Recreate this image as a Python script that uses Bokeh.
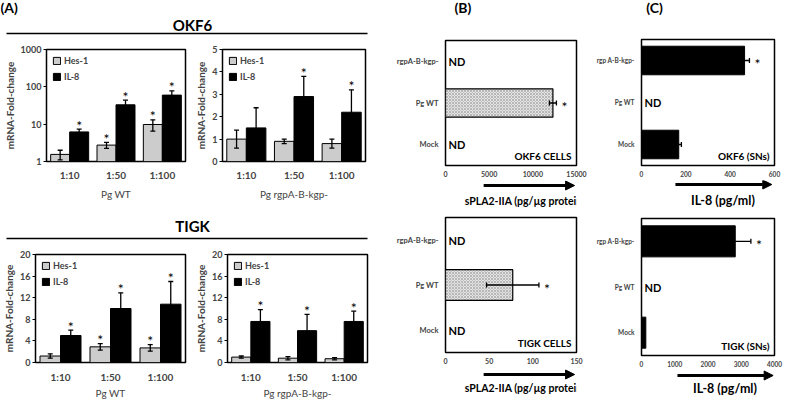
from bokeh.plotting import figure
from bokeh.models import (Range1d, FixedTicker, ColumnDataSource, Whisker, TeeHead,
                          Arrow, NormalHead, Legend, LegendItem)
from bokeh.layouts import row, column
from bokeh.embed import file_html
from bokeh.resources import INLINE
from bokeh.core.properties import value

FONT = "Lato"

# ---------------- data (A) ----------------
groups = ["1:10", "1:50", "1:100"]
series_names = ["Hes-1", "IL-8"]

okf6_wt_hes = [1.55, 2.75, 9.8]
okf6_wt_hes_err = [0.45, 0.5, 3.3]
okf6_wt_il8 = [6.2, 33.0, 60.0]
okf6_wt_il8_err = [1.2, 11.0, 18.0]
okf6_wt_hes_sig = [False, True, True]
okf6_wt_il8_sig = [True, True, True]

okf6_mut_hes = [1.0, 0.9, 0.8]
okf6_mut_hes_err = [0.4, 0.1, 0.2]
okf6_mut_il8 = [1.5, 2.9, 2.2]
okf6_mut_il8_err = [0.9, 0.9, 1.0]
okf6_mut_hes_sig = [False, False, False]
okf6_mut_il8_sig = [False, True, True]

tigk_wt_hes = [1.2, 2.9, 2.7]
tigk_wt_hes_err = [0.4, 0.6, 0.6]
tigk_wt_il8 = [5.0, 10.0, 10.8]
tigk_wt_il8_err = [1.0, 2.9, 4.2]
tigk_wt_hes_sig = [False, True, True]
tigk_wt_il8_sig = [True, True, True]

tigk_mut_hes = [1.0, 0.8, 0.7]
tigk_mut_hes_err = [0.2, 0.3, 0.2]
tigk_mut_il8 = [7.6, 5.9, 7.6]
tigk_mut_il8_err = [2.2, 3.0, 1.9]
tigk_mut_hes_sig = [False, False, False]
tigk_mut_il8_sig = [True, True, True]

log_ticks = [1, 10, 100, 1000]
okf6_mut_ticks = [0, 1, 2, 3, 4, 5]
tigk_ticks = [0, 4, 8, 12, 16, 20]

# ---------------- data (B) ----------------
conds_b = ["rgpA-B-kgp-", "Pg WT", "Mock"]
okf6_spla2 = [None, 12300, None]
okf6_spla2_err = [None, 400, None]
okf6_spla2_sig = [False, True, False]
tigk_spla2 = [None, 77, None]
tigk_spla2_err = [None, 30, None]
tigk_spla2_sig = [False, True, False]
spla2_ticks_okf6 = [0, 5000, 10000, 15000]
spla2_ticks_tigk = [0, 50, 100, 150]

# ---------------- data (C) ----------------
conds_c = ["rgp A-B-kgp-", "Pg WT", "Mock"]
okf6_il8_sn = [465, None, 168]
okf6_il8_sn_err = [22, None, 12]
okf6_il8_sn_sig = [True, False, False]
tigk_il8_sn = [2820, None, 130]
tigk_il8_sn_err = [470, None, 0]
tigk_il8_sn_sig = [True, False, False]
il8_ticks_okf6 = [0, 200, 400, 600]
il8_ticks_tigk = [0, 1000, 2000, 3000, 4000]


def canvas(w, h):
    c = figure(width=w, height=h, x_range=Range1d(0, w), y_range=Range1d(h, 0),
               toolbar_location=None, output_backend="svg", min_border=0,
               x_axis_location=None, y_axis_location=None)
    c.grid.visible = False
    c.outline_line_color = None
    return c


def add_text(c, x, y, text, size, style="bold", align="center", baseline="middle"):
    c.text(x=[x], y=[y], text=[text], text_font=value(FONT), text_font_size=size,
           text_font_style=style, text_align=align, text_baseline=baseline,
           text_color="black")


def group_plot(width, height, left, right, top, bottom, ylo, yhi, yticks, xlabel,
               hes, hes_err, il8, il8_err, hes_sig, il8_sig, log=False,
               tick_standoff=7, label_standoff=4):
    kw = dict(y_axis_type="log") if log else {}
    p = figure(width=width, height=height, x_range=Range1d(0, len(groups)),
               y_range=Range1d(ylo, yhi), toolbar_location=None, output_backend="svg",
               min_border_left=left, min_border_right=right, min_border_top=top,
               min_border_bottom=bottom, **kw)
    p.grid.visible = False
    p.outline_line_color = "black"
    p.outline_line_width = 1.5
    idx = list(range(len(groups)))
    xh = [i + 0.5 - 0.205 for i in idx]
    xi = [i + 0.5 + 0.205 for i in idx]
    r1 = p.vbar(x=xh, top=hes, bottom=ylo, width=0.41, fill_color="#cccccc",
                line_color="black", line_width=1)
    r2 = p.vbar(x=xi, top=il8, bottom=ylo, width=0.41, fill_color="black",
                line_color="black", line_width=1)
    src = ColumnDataSource(dict(
        x=xh + xi,
        lo=[v - e for v, e in zip(hes, hes_err)] + [v - e for v, e in zip(il8, il8_err)],
        hi=[v + e for v, e in zip(hes, hes_err)] + [v + e for v, e in zip(il8, il8_err)]))
    w = Whisker(source=src, base="x", lower="lo", upper="hi", dimension="height",
                line_color="black", line_width=1.3, level="overlay",
                upper_head=TeeHead(size=5, line_color="black", line_width=1.3),
                lower_head=TeeHead(size=5, line_color="black", line_width=1.3))
    p.add_layout(w)
    sx, sy = [], []
    for x, v, e, s in zip(xh + xi, hes + il8, hes_err + il8_err, hes_sig + il8_sig):
        if s:
            sx.append(x)
            sy.append(v + e)
    p.text(x=sx, y=sy, text=["*"] * len(sx), text_font=value(FONT), text_font_size="14px",
           text_align="center", text_baseline="middle", y_offset=-4, text_color="black")
    legend = Legend(items=[LegendItem(label=series_names[0], renderers=[r1]),
                           LegendItem(label=series_names[1], renderers=[r2])],
                    location="top_left", margin=6, padding=1, spacing=5,
                    glyph_width=9, glyph_height=9, label_height=9, label_standoff=3,
                    label_text_font=FONT, label_text_font_size="9px",
                    label_text_font_style="bold",
                    background_fill_alpha=0, border_line_color=None)
    p.add_layout(legend)
    p.xaxis.ticker = FixedTicker(ticks=[i + 0.5 for i in idx])
    p.xaxis.major_label_overrides = {i + 0.5: g for i, g in enumerate(groups)}
    p.xaxis.major_tick_line_color = None
    p.xaxis.major_tick_out = 0
    p.xaxis.major_tick_in = 0
    p.xaxis.minor_tick_line_color = None
    p.xaxis.minor_tick_out = 0
    p.xaxis.axis_line_color = None
    p.xaxis.major_label_standoff = tick_standoff
    p.xaxis.major_label_text_font = FONT
    p.xaxis.major_label_text_font_size = "10px"
    p.xaxis.major_label_text_font_style = "bold"
    p.xaxis.axis_label = xlabel
    p.xaxis.axis_label_text_font = FONT
    p.xaxis.axis_label_text_font_size = "10px"
    p.xaxis.axis_label_text_font_style = "normal"
    p.xaxis.axis_label_standoff = label_standoff
    p.yaxis.ticker = FixedTicker(ticks=yticks)
    p.yaxis.major_label_overrides = {t: str(t) for t in yticks}
    p.yaxis.axis_line_color = None
    p.yaxis.major_tick_out = 3
    p.yaxis.major_tick_in = 0
    p.yaxis.minor_tick_line_color = None
    p.yaxis.minor_tick_out = 0
    p.yaxis.major_label_standoff = 2
    p.yaxis.major_label_text_font = FONT
    p.yaxis.major_label_text_font_size = "9px"
    p.yaxis.major_label_text_font_style = "bold"
    p.yaxis.axis_label = "mRNA-Fold-change"
    p.yaxis.axis_label_text_font = FONT
    p.yaxis.axis_label_text_font_size = "10px"
    p.yaxis.axis_label_text_font_style = "bold"
    p.yaxis.axis_label_standoff = 2
    return p


def hbar_plot(width, height, left, right, top, bottom, conds, vals, errs, sig,
              xmax, xticks, cell_label, style, cat_font, tick_font):
    n = len(conds)
    p = figure(width=width, height=height, x_range=Range1d(0, xmax),
               y_range=Range1d(0, n), toolbar_location=None, output_backend="svg",
               min_border_left=left, min_border_right=right, min_border_top=top,
               min_border_bottom=bottom)
    p.grid.visible = False
    p.outline_line_color = "black"
    p.outline_line_width = 1.5
    ys = [n - i - 0.5 for i in range(n)]
    by = [ys[i] for i in range(n) if vals[i] is not None]
    bv = [vals[i] for i in range(n) if vals[i] is not None]
    p.hbar(y=by, right=bv, left=0, height=0.68, **style)
    wy, wl, wh = [], [], []
    for i in range(n):
        if vals[i] is not None and errs[i]:
            wy.append(ys[i])
            wl.append(vals[i] - errs[i])
            wh.append(vals[i] + errs[i])
    if wy:
        src = ColumnDataSource(dict(y=wy, lo=wl, hi=wh))
        p.add_layout(Whisker(source=src, base="y", lower="lo", upper="hi", dimension="width",
                             line_color="black", line_width=1.3, level="overlay",
                             upper_head=TeeHead(size=5, line_color="black", line_width=1.3),
                             lower_head=TeeHead(size=5, line_color="black", line_width=1.3)))
    ny = [ys[i] for i in range(n) if vals[i] is None]
    p.text(x=[0] * len(ny), y=ny, text=["ND"] * len(ny), text_font=value(FONT),
           text_font_size="11px", text_font_style="bold", text_align="left",
           text_baseline="middle", x_offset=3, text_color="black")
    sxs = [vals[i] + (errs[i] or 0) for i in range(n) if sig[i]]
    sys_ = [ys[i] for i in range(n) if sig[i]]
    p.text(x=sxs, y=sys_, text=["*"] * len(sxs), text_font=value(FONT),
           text_font_size="14px", text_align="left", text_baseline="middle",
           x_offset=5, y_offset=3, text_color="black")
    p.text(x=[xmax], y=[0], text=[cell_label], text_font=value(FONT), text_font_size="10px",
           text_font_style="bold", text_align="right", text_baseline="middle",
           x_offset=-5, y_offset=-10, text_color="black")
    p.xaxis.ticker = FixedTicker(ticks=xticks)
    p.xaxis.major_tick_line_color = None
    p.xaxis.major_tick_out = 0
    p.xaxis.major_tick_in = 0
    p.xaxis.minor_tick_line_color = None
    p.xaxis.minor_tick_out = 0
    p.xaxis.axis_line_color = None
    p.xaxis.major_label_standoff = 5
    p.xaxis.major_label_text_font = FONT
    p.xaxis.major_label_text_font_size = tick_font
    p.xaxis.major_label_text_font_style = "bold"
    p.yaxis.ticker = FixedTicker(ticks=ys)
    p.yaxis.major_label_overrides = {y: c for y, c in zip(ys, conds)}
    p.yaxis.major_tick_line_color = None
    p.yaxis.major_tick_out = 0
    p.yaxis.major_tick_in = 0
    p.yaxis.minor_tick_line_color = None
    p.yaxis.minor_tick_out = 0
    p.yaxis.axis_line_color = None
    p.yaxis.major_label_standoff = 7
    p.yaxis.major_label_text_font = FONT
    p.yaxis.major_label_text_font_size = cat_font
    p.yaxis.major_label_text_font_style = "bold"
    return p


stipple = dict(fill_color="#e4e4e4", line_color="black", line_width=1.2,
               hatch_pattern="diagonal_cross", hatch_scale=3, hatch_weight=0.5,
               hatch_color="#8a8a8a")
solid = dict(fill_color="black", line_color="black", line_width=1)

# ---------------- column A ----------------
hA1 = canvas(382, 40)
add_text(hA1, 0, 7, "(A)", "14px", align="left")
add_text(hA1, 192, 24, "OKF6", "15px")
hA1.segment(x0=[6], y0=[33], x1=[367], y1=[33], line_color="black", line_width=1.5)

a1 = group_plot(192, 162, 38, 7, 7, 39, 1, 1000, log_ticks, "Pg WT",
                okf6_wt_hes, okf6_wt_hes_err, okf6_wt_il8, okf6_wt_il8_err,
                okf6_wt_hes_sig, okf6_wt_il8_sig, log=True)
a2 = group_plot(190, 162, 26, 17, 9, 39, 0, 5, okf6_mut_ticks, "Pg rgpA-B-kgp-",
                okf6_mut_hes, okf6_mut_hes_err, okf6_mut_il8, okf6_mut_il8_err,
                okf6_mut_hes_sig, okf6_mut_il8_sig)

hA2 = canvas(382, 42)
add_text(hA2, 192, 23, "TIGK", "15px")
hA2.segment(x0=[6], y0=[36], x1=[367], y1=[36], line_color="black", line_width=1.5)

a3 = group_plot(192, 157, 31, 7, 9, 35, 0, 20, tigk_ticks, "Pg WT",
                tigk_wt_hes, tigk_wt_hes_err, tigk_wt_il8, tigk_wt_il8_err,
                tigk_wt_hes_sig, tigk_wt_il8_sig, tick_standoff=8, label_standoff=1)
a4 = group_plot(190, 157, 27, 15, 10, 35, 0, 20, tigk_ticks, "Pg rgpA-B-kgp-",
                tigk_mut_hes, tigk_mut_hes_err, tigk_mut_il8, tigk_mut_il8_err,
                tigk_mut_hes_sig, tigk_mut_il8_sig, tick_standoff=8, label_standoff=1)

colA = column(hA1, row(a1, a2), hA2, row(a3, a4))

# ---------------- column B ----------------
hB = canvas(206, 38)
add_text(hB, 14, 7, "(B)", "14px", align="left")
b1 = hbar_plot(206, 142, 62, 12, 2, 15, conds_b, okf6_spla2, okf6_spla2_err, okf6_spla2_sig,
               15000, spla2_ticks_okf6, "OKF6 CELLS", stipple, "7.5px", "7px")
dB1 = canvas(206, 28)
dB1.add_layout(Arrow(end=NormalHead(size=9, fill_color="black", line_color="black"),
                     x_start=60, y_start=5, x_end=203, y_end=5, line_width=3))
add_text(dB1, 125, 20, "sPLA2-IIA (pg/µg protein)", "10.5px")
b2 = hbar_plot(206, 158, 63, 9, 9, 14, conds_b, tigk_spla2, tigk_spla2_err, tigk_spla2_sig,
               150, spla2_ticks_tigk, "TIGK CELLS", stipple, "7.5px", "7px")
dB2 = canvas(206, 35)
dB2.add_layout(Arrow(end=NormalHead(size=9, fill_color="black", line_color="black"),
                     x_start=60, y_start=8, x_end=203, y_end=8, line_width=3))
add_text(dB2, 125, 21, "sPLA2-IIA (pg/µg protein)", "10.5px")
colB = column(hB, b1, dB1, b2, dB2)

# ---------------- column C ----------------
hC = canvas(196, 37)
add_text(hC, 7, 7, "(C)", "14px", align="left")
c1 = hbar_plot(196, 143, 51, 10, 2, 15, conds_c, okf6_il8_sn, okf6_il8_sn_err, okf6_il8_sn_sig,
               600, il8_ticks_okf6, "OKF6 (SNs)", solid, "6.5px", "6.5px")
dC1 = canvas(196, 28)
dC1.add_layout(Arrow(end=NormalHead(size=9, fill_color="black", line_color="black"),
                     x_start=50, y_start=4, x_end=192, y_end=4, line_width=3))
add_text(dC1, 120, 20, "IL-8 (pg/ml)", "12.5px")
c2 = hbar_plot(196, 161, 53, 10, 10, 14, conds_c, tigk_il8_sn, tigk_il8_sn_err, tigk_il8_sn_sig,
               4000, il8_ticks_tigk, "TIGK (SNs)", solid, "6.5px", "6.5px")
dC2 = canvas(196, 32)
dC2.add_layout(Arrow(end=NormalHead(size=9, fill_color="black", line_color="black"),
                     x_start=53, y_start=6, x_end=194, y_end=6, line_width=3))
add_text(dC2, 123, 19, "IL-8 (pg/ml)", "12.5px")
colC = column(hC, c1, dC1, c2, dC2)

layout = row(colA, colB, colC)
open("out.html", "w").write(file_html(layout, INLINE))
